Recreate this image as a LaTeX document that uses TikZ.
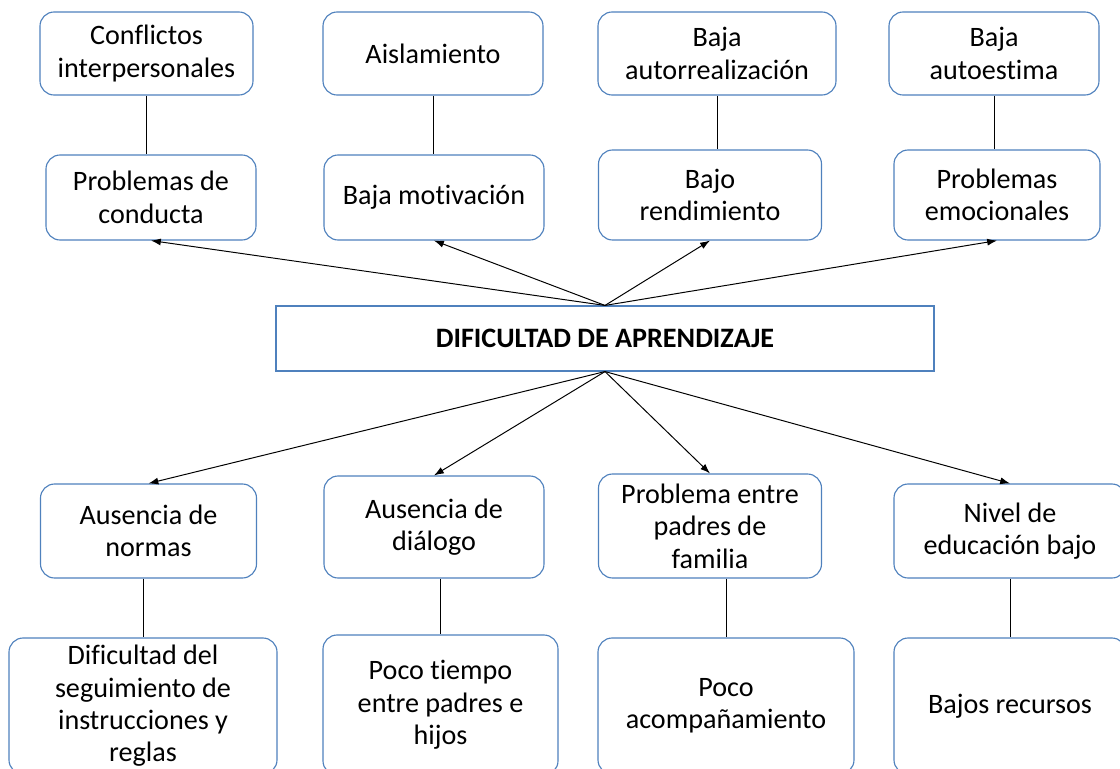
\documentclass[tikz,border=0pt]{standalone}
\usepackage{fontspec}
\setmainfont[Ligatures=NoCommon]{Carlito}
\usetikzlibrary{arrows.meta}
\definecolor{borde}{RGB}{79,129,189}
\begin{document}
\begin{tikzpicture}[x=0.025cm, y=-0.025cm,
    caja/.style={draw=borde, line width=0.8pt, rounded corners=10pt, fill=white,
      align=center, inner sep=0pt, font=\fontsize{20}{23}\selectfont},
    centro/.style={draw=borde, line width=0.8pt, fill=white, inner sep=0pt,
      font=\fontsize{20}{23}\selectfont\bfseries},
    liga/.style={line width=0.6pt},
    flecha/.style={line width=0.7pt, -{Latex[length=7pt,width=5pt]}}]
  \useasboundingbox (0,0) rectangle (1120,769);
  \clip (0,0) rectangle (1120,769);
  % fila superior
  \node[caja, minimum width=213*0.025cm, minimum height=83*0.025cm] (c1) at (146.5,53.5) {Conflictos\\interpersonales};
  \node[caja, minimum width=220*0.025cm, minimum height=83*0.025cm] (c2) at (433,53.5) {Aislamiento};
  \node[caja, minimum width=238*0.025cm, minimum height=83*0.025cm] (c3) at (717,53.5) {Baja\\autorrealización};
  \node[caja, minimum width=210*0.025cm, minimum height=83*0.025cm] (c4) at (994,53.5) {Baja\\autoestima};
  % efectos
  \node[caja, minimum width=210*0.025cm, minimum height=85*0.025cm] (p1) at (151,197.5) {Problemas de\\conducta};
  \node[caja, minimum width=220*0.025cm, minimum height=85*0.025cm] (p2) at (434,197.5) {Baja motivación};
  \node[caja, minimum width=223*0.025cm, minimum height=90*0.025cm] (p3) at (710,195) {Bajo\\rendimiento};
  \node[caja, minimum width=206*0.025cm, minimum height=90*0.025cm] (p4) at (997,195) {Problemas\\emocionales};
  % problema central
  \node[centro, minimum width=658*0.025cm, minimum height=65*0.025cm] (dif) at (605,338.5) {DIFICULTAD DE APRENDIZAJE};
  % causas
  \node[caja, minimum width=216*0.025cm, minimum height=94*0.025cm] (a1) at (148.5,531) {Ausencia de\\normas};
  \node[caja, minimum width=220*0.025cm, minimum height=102*0.025cm] (a2) at (434,527) {Ausencia de\\diálogo};
  \node[caja, minimum width=223*0.025cm, minimum height=104*0.025cm] (a3) at (710,526) {Problema entre\\padres de\\familia};
  \node[caja, minimum width=232*0.025cm, minimum height=94*0.025cm] (a4) at (1010,531) {Nivel de\\educación bajo};
  \node[caja, minimum width=268*0.025cm, minimum height=136*0.025cm] (b1) at (143,706) {Dificultad del\\seguimiento de\\instrucciones y\\reglas};
  \node[caja, minimum width=235*0.025cm, minimum height=140*0.025cm] (b2) at (440.5,705) {Poco tiempo\\entre padres e\\hijos};
  \node[caja, minimum width=256*0.025cm, minimum height=136*0.025cm] (b3) at (726,706) {Poco\\acompañamiento};
  \node[caja, minimum width=232*0.025cm, minimum height=136*0.025cm] (b4) at (1010,706) {Bajos recursos};
  % lineas
  \foreach \i in {1,...,4} {
    \draw[liga] (c\i.south) -- (c\i.south |- p\i.north);
    \draw[liga] (b\i.north |- a\i.south) -- (b\i.north);
    \draw[flecha] (dif.north) -- (p\i.south);
    \draw[flecha] (dif.south) -- (a\i.north);
  }
\end{tikzpicture}
\end{document}
